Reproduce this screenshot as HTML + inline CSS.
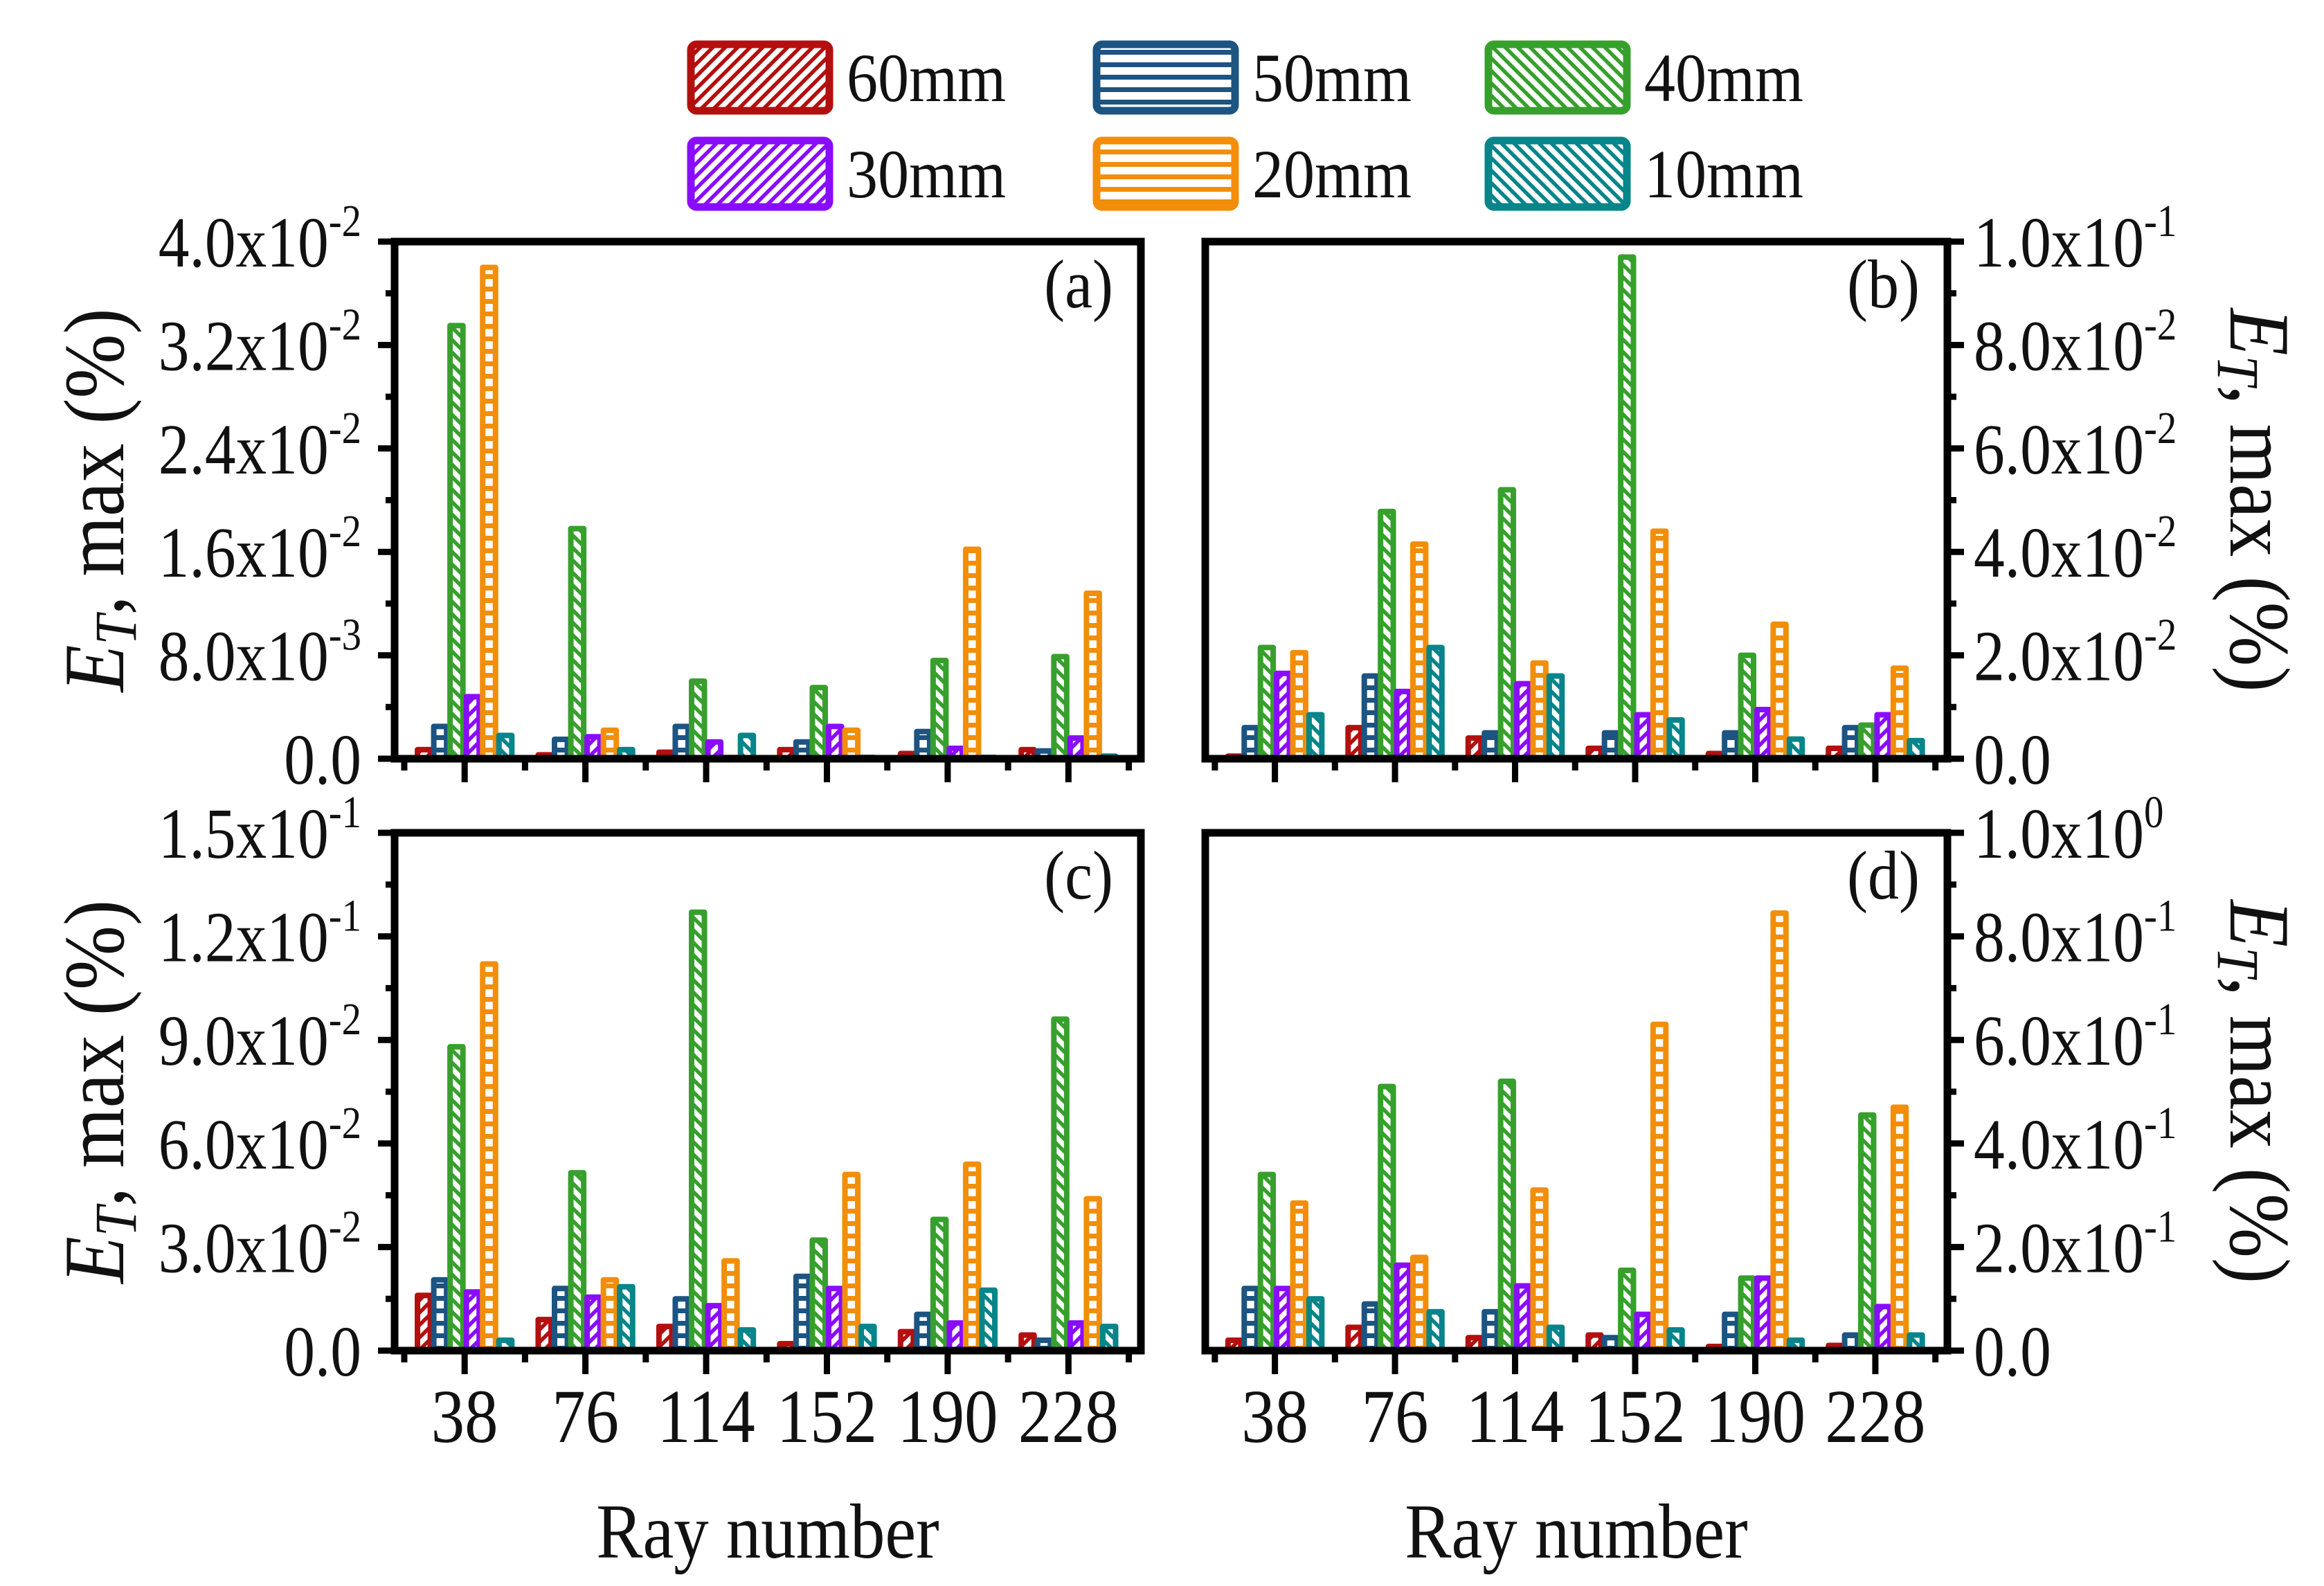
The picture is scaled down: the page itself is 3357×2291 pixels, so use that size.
<!DOCTYPE html>
<html><head><meta charset="utf-8"><style>
html,body{margin:0;padding:0;background:#fff;}
svg{display:block;font-family:"Liberation Serif",serif;}
</style></head><body>
<svg id="chart" width="3357" height="2291" viewBox="0 0 3357 2291" xmlns="http://www.w3.org/2000/svg">
<defs id="defs"></defs>
<g id="legend"></g>
<g id="panels"></g>
</svg>
<script>
const categories = ["38","76","114","152","190","228"];
const seriesNames = ["60mm","50mm","40mm","30mm","20mm","10mm"];
const seriesColors = ["#b40f0f","#1c5482","#37a02d","#8a0cff","#f28e0a","#06858a"];
const seriesPatterns = ["fwd","horiz","back","fwd","horiz","back"];

const dataA_60=[0.0007,0.0003,0.0005,0.0007,0.0004,0.0007];
const dataA_50=[0.0025,0.0015,0.0025,0.0013,0.0021,0.0006];
const dataA_40=[0.0335,0.0178,0.006,0.0055,0.0076,0.0079];
const dataA_30=[0.0048,0.0017,0.0013,0.0025,0.0008,0.0016];
const dataA_20=[0.038,0.0022,0.0001,0.0022,0.0162,0.0128];
const dataA_10=[0.0018,0.0007,0.0018,0.0001,0.0001,0.0002];

const dataB_60=[0.0005,0.006,0.004,0.002,0.001,0.002];
const dataB_50=[0.006,0.016,0.005,0.005,0.005,0.006];
const dataB_40=[0.0215,0.0478,0.052,0.097,0.02,0.0065];
const dataB_30=[0.0165,0.013,0.0145,0.0085,0.0095,0.0085];
const dataB_20=[0.0205,0.0415,0.0185,0.044,0.026,0.0175];
const dataB_10=[0.0085,0.0215,0.016,0.0075,0.0038,0.0035];

const dataC_60=[0.016,0.009,0.007,0.002,0.0055,0.0045];
const dataC_50=[0.0205,0.018,0.015,0.0215,0.0105,0.003];
const dataC_40=[0.088,0.0515,0.127,0.032,0.038,0.096];
const dataC_30=[0.017,0.0155,0.013,0.018,0.008,0.008];
const dataC_20=[0.112,0.0205,0.026,0.051,0.054,0.044];
const dataC_10=[0.003,0.0185,0.006,0.007,0.0175,0.007];

const dataD_60=[0.02,0.045,0.025,0.03,0.008,0.01];
const dataD_50=[0.12,0.09,0.075,0.025,0.07,0.03];
const dataD_40=[0.34,0.51,0.52,0.155,0.14,0.455];
const dataD_30=[0.12,0.165,0.125,0.07,0.14,0.085];
const dataD_20=[0.285,0.18,0.31,0.63,0.845,0.47];
const dataD_10=[0.10,0.075,0.045,0.04,0.02,0.03];

const ticksA=[0,0.008,0.016,0.024,0.032,0.04];
const tickMantA=["0.0","8.0","1.6","2.4","3.2","4.0"];
const tickExpA=["","-3","-2","-2","-2","-2"];
const ticksB=[0,0.02,0.04,0.06,0.08,0.1];
const tickMantB=["0.0","2.0","4.0","6.0","8.0","1.0"];
const tickExpB=["","-2","-2","-2","-2","-1"];
const ticksC=[0,0.03,0.06,0.09,0.12,0.15];
const tickMantC=["0.0","3.0","6.0","9.0","1.2","1.5"];
const tickExpC=["","-2","-2","-2","-1","-1"];
const ticksD=[0,0.2,0.4,0.6,0.8,1.0];
const tickMantD=["0.0","2.0","4.0","6.0","8.0","1.0"];
const tickExpD=["","-1","-1","-1","-1","0"];

const NS="http://www.w3.org/2000/svg";
function mk(tag,attrs,parent){const e=document.createElementNS(NS,tag);for(const k in attrs)e.setAttribute(k,attrs[k]);if(parent)parent.appendChild(e);return e;}
function cond(t,x,y,s,pre){t.setAttribute('transform',(pre||'')+' translate('+x+' '+y+') scale('+s+' 1) translate('+(-x)+' '+(-y)+')');}

const defs=document.getElementById('defs');
seriesColors.forEach((c,i)=>{
  const p=mk('pattern',{id:'pat'+i,patternUnits:'userSpaceOnUse',width:18,height:18},defs);
  const t=seriesPatterns[i];
  mk('rect',{x:0,y:0,width:18,height:18,fill:'#fff'},p);
  if(t==='horiz'){mk('rect',{x:0,y:0,width:18,height:7,fill:c},p);}
  else if(t==='fwd'){mk('path',{d:'M-3,21 L21,-3 M-12,12 L12,-12 M6,30 L30,6',stroke:c,'stroke-width':5.5},p);}
  else{mk('path',{d:'M-3,-3 L21,21 M-12,6 L12,30 M6,-12 L30,12',stroke:c,'stroke-width':5.5},p);}
});

const legend=document.getElementById('legend');
const legX=[998,1584,2150], legY=[64,203];
seriesNames.forEach((n,i)=>{
  const x=legX[i%3], y=legY[Math.floor(i/3)];
  const g=mk('g',{},legend);
  
  
  mk('rect',{x:x,y:y,width:200,height:96,rx:8,fill:'url(#pat'+i+')',stroke:seriesColors[i],'stroke-width':11},g);
  const t=mk('text',{x:x+225,y:y+82,'font-size':100,fill:'#111'},g);
  cond(t,x+225,y+82,0.9);
  t.textContent=n;
});

const panels=[
 {id:'a',x0:570,x1:1648,y0:349,y1:1096,max:0.04,ticks:ticksA,mant:tickMantA,exp:tickExpA,side:'left',data:[dataA_60,dataA_50,dataA_40,dataA_30,dataA_20,dataA_10],xlabels:false},
 {id:'b',x0:1741,x1:2813,y0:349,y1:1096,max:0.1,ticks:ticksB,mant:tickMantB,exp:tickExpB,side:'right',data:[dataB_60,dataB_50,dataB_40,dataB_30,dataB_20,dataB_10],xlabels:false},
 {id:'c',x0:570,x1:1648,y0:1203,y1:1951,max:0.15,ticks:ticksC,mant:tickMantC,exp:tickExpC,side:'left',data:[dataC_60,dataC_50,dataC_40,dataC_30,dataC_20,dataC_10],xlabels:true},
 {id:'d',x0:1741,x1:2813,y0:1203,y1:1951,max:1.0,ticks:ticksD,mant:tickMantD,exp:tickExpD,side:'right',data:[dataD_60,dataD_50,dataD_40,dataD_30,dataD_20,dataD_10],xlabels:true}
];
const root=document.getElementById('panels');
panels.forEach(P=>{
  const g=mk('g',{},root);
  
  
  const dmin=0.42,dmax=6.6;
  const xs=v=>P.x0+(v-dmin)/(dmax-dmin)*(P.x1-P.x0);
  const ys=v=>P.y1-v/P.max*(P.y1-P.y0);
  const step=(xs(2)-xs(1));
  const bw=step*0.135;
  P.data.forEach((arr,si)=>{
    arr.forEach((v,ci)=>{
      const cx=xs(ci+1)+(si-2.5)*bw;
      const top=ys(v), h=P.y1-top;
      const r=mk('rect',{x:cx-bw/2+2.5,y:top,width:bw-5,height:Math.max(h,0),fill:'url(#pat'+si+')',stroke:seriesColors[si],'stroke-width':8,'stroke-linejoin':'round'},g);
      
      
    });
  });
  const fr=mk('rect',{x:P.x0,y:P.y0,width:P.x1-P.x0,height:P.y1-P.y0,fill:'none',stroke:'#000','stroke-width':11},g);
  
  
  const ax=P.side==='left'?P.x0:P.x1, dir=P.side==='left'?-1:1;
  const yax=mk('g',{},g);
  
  
  const minorStep=P.ticks[1]/2;
  for(let k=0;k<=10;k++){
    const v=minorStep*k; const y=ys(v);
    const len=k%2===0?24:13;
    mk('line',{x1:ax,y1:y,x2:ax+dir*len,y2:y,stroke:'#000','stroke-width':9},yax);
  }
  P.ticks.forEach((v,i)=>{
    const y=ys(v);
    const tx=P.side==='left'?ax-48:ax+38, ty=y+36;
    const t=mk('text',{x:tx,y:ty,'font-size':104,fill:'#111'},yax);
    if(P.side==='left')t.setAttribute('text-anchor','end');
    cond(t,tx,ty,0.86);
    if(P.exp[i]===''){t.textContent=P.mant[i];}
    else{
      const s1=mk('tspan',{},t);s1.textContent=P.mant[i]+'x10';
      const s2=mk('tspan',{dy:-44,'font-size':66},t);s2.textContent=P.exp[i];
    }
  });
  const xax=mk('g',{},g);
  
  
  categories.forEach((c,i)=>{
    const x=xs(i+1);
    mk('line',{x1:x,y1:P.y1,x2:x,y2:P.y1+34,stroke:'#000','stroke-width':9},xax);
    const xm=xs(i+0.5);
    mk('line',{x1:xm,y1:P.y1,x2:xm,y2:P.y1+17,stroke:'#000','stroke-width':9},xax);
    if(P.xlabels){const ty=P.y1+132;const t=mk('text',{x:x,y:ty,'font-size':110,'text-anchor':'middle',fill:'#111'},xax);cond(t,x,ty,0.88);t.textContent=c;}
  });
  const xm=xs(6.5);
  mk('line',{x1:xm,y1:P.y1,x2:xm,y2:P.y1+17,stroke:'#000','stroke-width':9},xax);
  const plx=P.x1-40, ply=P.y0+95;
  const pl=mk('text',{x:plx,y:ply,'font-size':100,'text-anchor':'end',fill:'#111'},g);
  cond(pl,plx,ply,0.9);
  pl.textContent='('+P.id+')';
  
  
  const cy=(P.y0+P.y1)/2;
  const tx=P.side==='left'?138:3262, rot=P.side==='left'?-90:90;
  const yt=mk('text',{x:tx,y:cy,'font-size':124,'text-anchor':'middle',fill:'#111'},g);
  cond(yt,tx,cy,0.9,'rotate('+rot+' '+tx+' '+cy+')');
  
  
  const e=mk('tspan',{'font-style':'italic','dy':40},yt);e.textContent='E';
  const sub=mk('tspan',{'font-style':'italic','font-size':86,dy:18},yt);sub.textContent='T';
  const rest=mk('tspan',{dy:-18},yt);rest.textContent=', max (%)';
  if(P.xlabels){
    const xx=(P.x0+P.x1)/2, yy=2250;
    const xt=mk('text',{x:xx,y:yy,'font-size':112,'text-anchor':'middle',fill:'#111'},g);
    cond(xt,xx,yy,0.9);
    xt.textContent='Ray number';
    
    
  }
});
</script>
</body></html>
